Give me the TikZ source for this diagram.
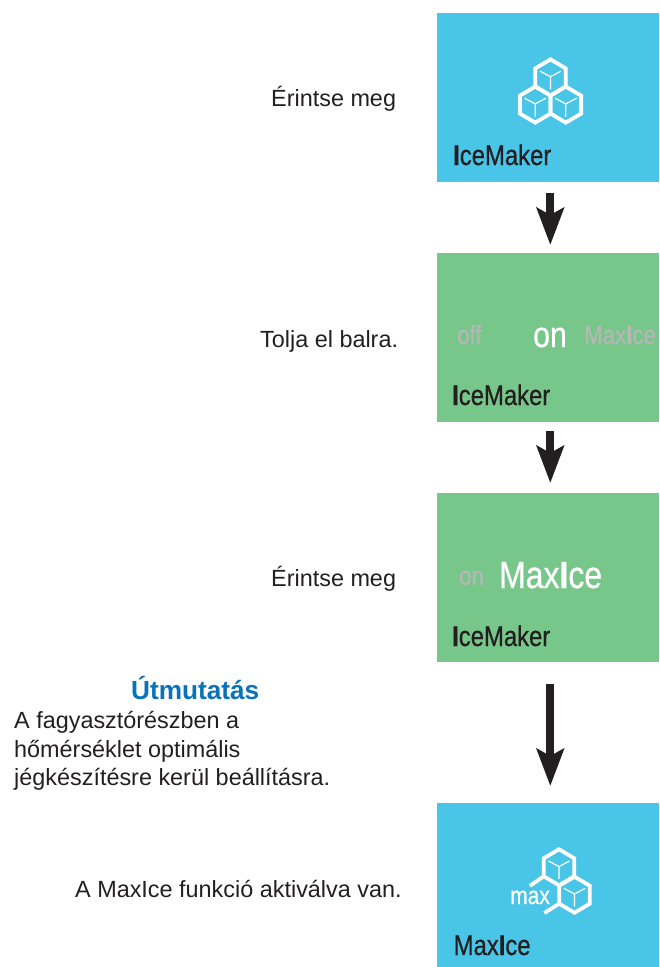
\documentclass[tikz,border=0pt]{standalone}
\usepackage{fontspec}
\setmainfont{Liberation Sans}
\newfontfamily\cond[FakeStretch=0.84,FakeBold=0.6]{Liberation Sans}
\usetikzlibrary{arrows.meta}
\definecolor{iceblue}{HTML}{48C5E7}
\definecolor{icegreen}{HTML}{77C68A}
\definecolor{inkdark}{HTML}{231F20}
\definecolor{dimgrey}{HTML}{B7B7B7}
\definecolor{headblue}{HTML}{0A72BA}
\newcommand{\fs}[1]{\fontsize{#1}{#1}\selectfont}
\newcommand{\hexcube}[2]{%
  \draw[hexline] (#1,#2-18) -- (#1+15.3,#2-9) -- (#1+15.3,#2+9) -- (#1,#2+18) -- (#1-15.3,#2+9) -- (#1-15.3,#2-9) -- cycle;
  \draw[yline] (#1,#2-0.7) -- (#1-10.7,#2-6.4) (#1,#2-0.7) -- (#1+10.7,#2-6.4) (#1,#2-0.7) -- (#1,#2+11.9);}
\tikzset{
  x=1pt,y=-1pt,
  panel/.style={draw=none,minimum width=222pt,inner sep=0pt,outer sep=0pt,anchor=north west},
  bodytext/.style={inner sep=0pt,anchor=base west,text=inkdark,font=\fontsize{23.4}{28.7}\selectfont},
  paneltitle/.style={inner sep=0pt,anchor=base west,text=inkdark,font=\cond\fs{28.4}},
  dimtext/.style={inner sep=0pt,anchor=base west,text=dimgrey,font=\cond\fs{26.5}},
  brighttext/.style={inner sep=0pt,anchor=base west,text=white,font=\cond},
  hexline/.style={draw=white,line width=3.8pt,line join=miter},
  yline/.style={draw=white,line width=1.2pt},
  flow/.style={draw=inkdark,fill=inkdark,line width=8pt,-{Stealth[length=37pt,width=27pt,inset=7pt]}},
}
\begin{document}
\begin{tikzpicture}
\useasboundingbox (0,0) rectangle (659,967);
\node[panel,fill=iceblue,minimum height=169pt] (p1) at (437,13) {};
\node[panel,fill=icegreen,minimum height=169pt] (p2) at (437,253) {};
\node[panel,fill=icegreen,minimum height=169pt] (p3) at (437,493) {};
\node[panel,fill=iceblue,minimum height=164pt] (p4) at (437,803) {};
% arrows
\draw[flow,shorten <=10.7pt,shorten >=8pt] ([xshift=2.3pt]p1.south) -- ([xshift=2.3pt]p2.north);
\draw[flow,shorten <=9pt,shorten >=10pt] ([xshift=2.3pt]p2.south) -- ([xshift=2.3pt]p3.north);
\draw[flow,shorten <=22.3pt,shorten >=17pt] ([xshift=2.3pt]p3.south) -- ([xshift=2.3pt]p4.north);
% icon 1
\hexcube{550.5}{77.4}
\hexcube{535.2}{104.6}
\hexcube{565.8}{104.6}
% icon 4
\hexcube{559}{867.3}
\hexcube{574.5}{894.7}
\draw[hexline] (529.7,886) -- (543.7,876.3);
\draw[hexline] (544.3,913) -- (559.2,903.7);
% panel labels
\node[paneltitle] (t1) at (453,165) {{\bfseries I}ceMaker};
\node[paneltitle] (t2) at (452,405) {{\bfseries I}ceMaker};
\node[paneltitle] (t3) at (452,646) {{\bfseries I}ceMaker};
\node[paneltitle] (t4) at (453.5,955) {Max{\bfseries I}ce};
\node[dimtext] (off) at (457,344) {off};
\node[brighttext,font=\cond\fs{36}] (on) at (533,347) {on};
\node[dimtext] (mi) at (584,344) {Max{\bfseries I}ce};
\node[dimtext] (on2) at (459,585) {on};
\node[brighttext,font=\cond\fs{38}] (mi2) at (499,588) {Max{\bfseries I}ce};
\node[brighttext,font=\cond\fs{25}] (mx) at (510,904) {max};
% captions
\node[bodytext] (c1) at (271,106) {Érintse meg};
\node[bodytext] (c2) at (260,347) {Tolja el balra.};
\node[bodytext] (c3) at (271,586) {Érintse meg};
\node[bodytext] (c4) at (75,897) {A MaxIce funkció aktiválva van.};
\node[inner sep=0pt,anchor=base west,text=headblue,font=\bfseries\fs{26.2}] (g) at (131,699) {Útmutatás};
\node[inner sep=0pt,anchor=north west,align=left,text=inkdark,font=\fontsize{23.4}{28.7}\selectfont] (gt) at (14,711) {A fagyasztórészben a\\hőmérséklet optimális\\jégkészítésre kerül beállításra.};
\end{tikzpicture}
\end{document}
